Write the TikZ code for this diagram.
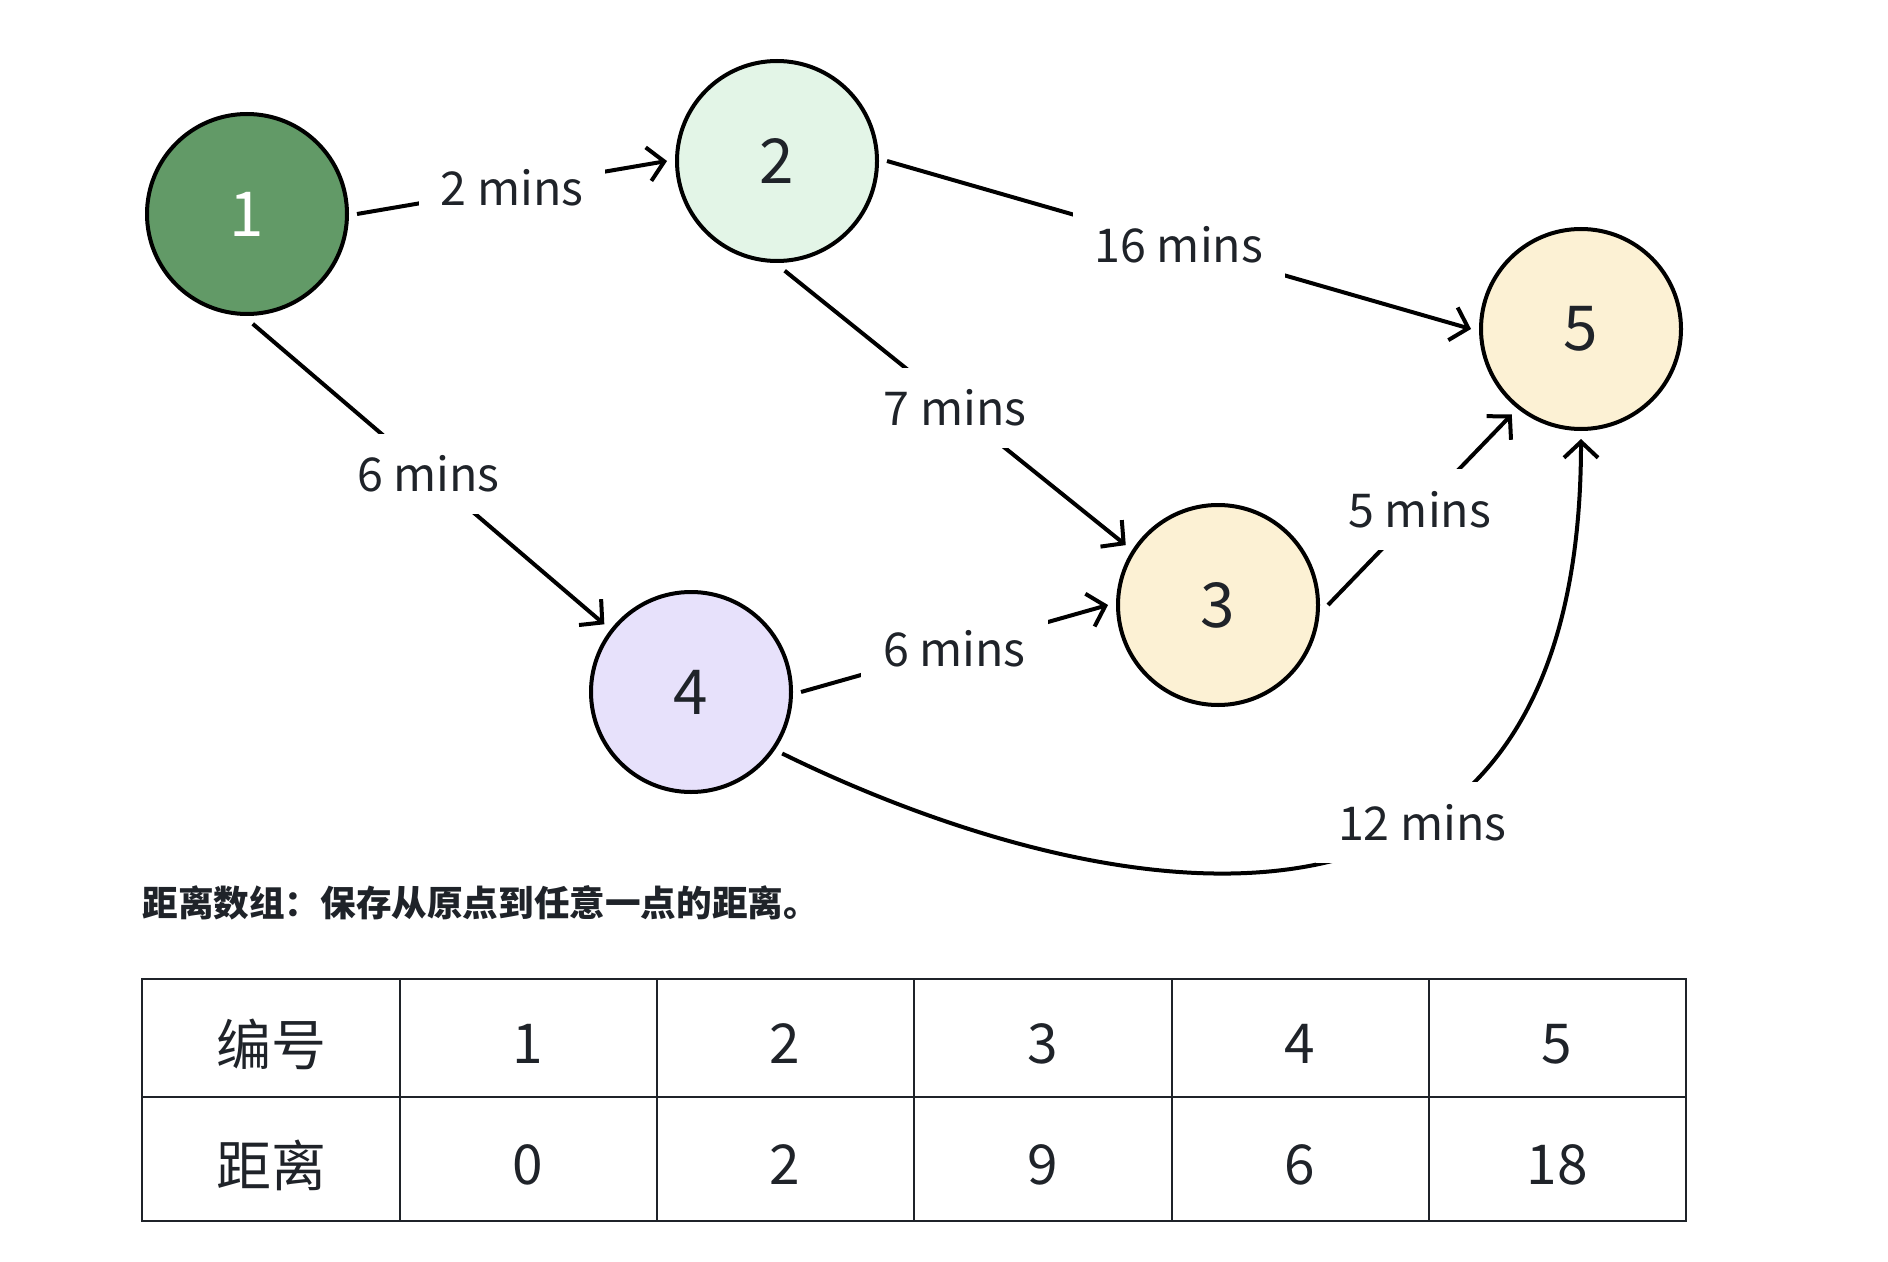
\documentclass[tikz,border=0pt]{standalone}
\usepackage{fontspec}
\setmainfont{Noto Sans CJK SC}
\usetikzlibrary{arrows.meta}

\definecolor{ink}{HTML}{1F2329}
\definecolor{fillone}{HTML}{629A67}
\definecolor{filltwo}{HTML}{E3F5E7}
\definecolor{fillsand}{HTML}{FCF1D4}
\definecolor{filllilac}{HTML}{E7E1FB}

\begin{document}
\begin{tikzpicture}[x=0.5pt,y=-0.5pt,
  >={Straight Barb[length=8pt,width=17pt]},
  vertex/.style={shape=circle,draw,line width=2pt,minimum size=100pt,inner sep=0pt,
                 outer sep=5pt,text=ink,font=\fontsize{31}{31}\selectfont},
  link/.style={->,line width=2pt},
  cost/.style={fill=white,inner sep=11pt,text=ink,font=\fontsize{23.3}{24}\selectfont},
  cell/.style={text=ink,font=\fontsize{27.5}{28}\selectfont}]

  \useasboundingbox (0,0) rectangle (1888,1262);

  \node (n1) at (247,214) [vertex, fill=fillone, text=white] {1};
  \node (n2) at (777,161) [vertex, fill=filltwo] {2};
  \node (n3) at (1218,605) [vertex, fill=fillsand] {3};
  \node (n4) at (691,692) [vertex, fill=filllilac] {4};
  \node (n5) at (1581,329) [vertex, fill=fillsand] {5};

  \draw [link] (n1.east) -- node [cost] {2 mins} (n2.west);
  \draw [link] (n2.east) -- node [cost] {16 mins} (n5.west);
  \draw [link] (n2.-86) -- node [cost] {7 mins} (n3.147);
  \draw [link] (n1.-87) -- node [cost] {6 mins} (n4.142);
  \draw [link] (n4.east) -- node [cost] {6 mins} (n3.west);
  \draw [link] (n3.east) -- node [cost] {5 mins} (n5.-129);
  \draw [link] (n4.-34) .. controls (1060,890) and (1581,1030) .. node [cost, pos=0.65] {12 mins} (n5.south);

  % distance array
  \node (caption) at (142,903) [anchor=west, inner sep=0pt, text=ink,
        font=\bfseries\fontsize{17.8}{18}\selectfont] {距离数组：保存从原点到任意一点的距离。};

  \draw [line width=1.2pt, ink] (142,979) rectangle (1686,1221);
  \draw [line width=1.2pt, ink] (142,1097) -- (1686,1097);
  \foreach \x in {400,657,914,1172,1429}
    \draw [line width=1.2pt, ink] (\x,979) -- (\x,1221);

  \node (h0) at (271,1044) [cell] {编号};
  \node (h1) at (528,1044) [cell] {1};
  \node (h2) at (785,1044) [cell] {2};
  \node (h3) at (1043,1044) [cell] {3};
  \node (h4) at (1300,1044) [cell] {4};
  \node (h5) at (1557,1044) [cell] {5};

  \node (d0) at (271,1165) [cell] {距离};
  \node (d1) at (528,1165) [cell] {0};
  \node (d2) at (785,1165) [cell] {2};
  \node (d3) at (1043,1165) [cell] {9};
  \node (d4) at (1300,1165) [cell] {6};
  \node (d5) at (1557,1165) [cell] {18};
\end{tikzpicture}
\end{document}
